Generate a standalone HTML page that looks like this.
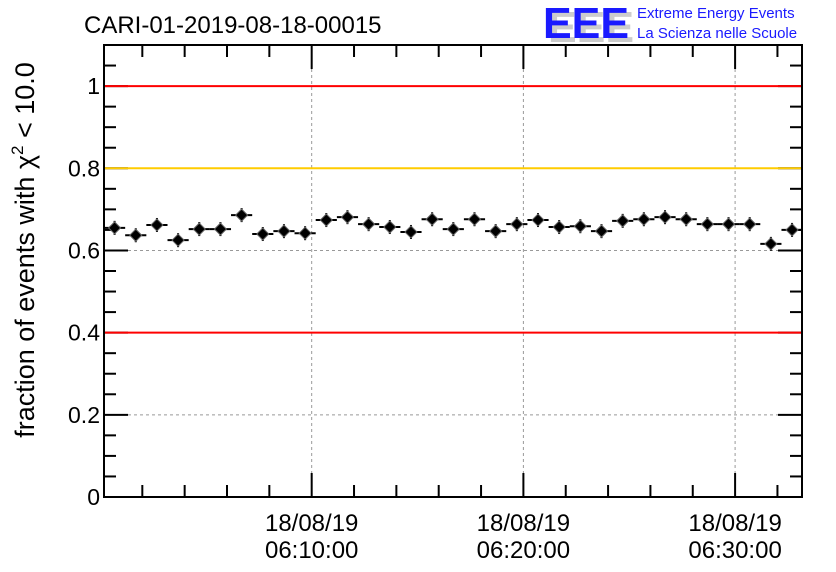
<!DOCTYPE html>
<html><head><meta charset="utf-8"><style>
body{margin:0;background:#fff;}
svg{display:block;font-family:"Liberation Sans",sans-serif;}
</style></head><body>
<svg id="c" width="836" height="572" viewBox="0 0 836 572">
<text x="84" y="33" font-size="24">CARI-01-2019-08-18-00015</text>
<g>
<text x="548" y="42" font-size="44" fill="#ccc" font-weight="bold" textLength="86" lengthAdjust="spacingAndGlyphs">EEE</text>
<text x="543" y="38" font-size="44" fill="#1a1aff" font-weight="bold" textLength="86" lengthAdjust="spacingAndGlyphs">EEE</text>
<text x="637" y="18" font-size="15" fill="#1a1aff">Extreme Energy Events</text>
<text x="637" y="38" font-size="15" fill="#1a1aff">La Scienza nelle Scuole</text>
</g>
<text transform="translate(34,250) rotate(-90)" font-size="27" text-anchor="middle">fraction of events with &#967;<tspan font-size="17" dy="-11">2</tspan><tspan dy="11"> &lt; 10.0</tspan></text>
<g id="plot"></g>
</svg>
<script>
const values=[0.655,0.637,0.662,0.625,0.652,0.652,0.686,0.640,0.647,0.642,0.674,0.681,0.664,0.657,0.645,0.676,0.652,0.676,0.647,0.664,0.674,0.657,0.659,0.647,0.672,0.676,0.681,0.676,0.664,0.664,0.664,0.616,0.650];
const yTicks=[0,0.2,0.4,0.6,0.8,1];
const yTickLabels=["0","0.2","0.4","0.6","0.8","1"];
const xMajorMinutes=[10,20,30];
const xMajorLabels=[["18/08/19","06:10:00"],["18/08/19","06:20:00"],["18/08/19","06:30:00"]];
const refLines=[{v:1,c:"#ff0000"},{v:0.8,c:"#ffcc00"},{v:0.4,c:"#ff0000"}];
const tStart=0.19, tEnd=33.16, binStart=0.19, binW=1;
const L=104,R=802,T=45,B=497,yMax=1.1;
const xs=t=>L+(t-tStart)/(tEnd-tStart)*(R-L);
const ys=v=>B-v/yMax*(B-T);
const NS="http://www.w3.org/2000/svg";
const g=document.getElementById('plot');
function mk(tag,a,name){const e=document.createElementNS(NS,tag);for(const k in a)e.setAttribute(k,a[k]);


g.appendChild(e);return e;}
yTicks.forEach(v=>{if(v>0&&v<1)mk('line',{x1:L,x2:R,y1:ys(v),y2:ys(v),stroke:'#999','stroke-dasharray':'3,3'},'y-gridline');});
xMajorMinutes.forEach(m=>mk('line',{x1:xs(m),x2:xs(m),y1:T,y2:B,stroke:'#999','stroke-dasharray':'3,3'},'x-gridline'));
for(let i=0;i*0.05<=yMax+1e-9;i++){const v=i*0.05;const maj=i%4==0;
mk('line',{x1:L,x2:L+(maj?24:12),y1:ys(v),y2:ys(v),stroke:'#000','stroke-width':2},'y-tick');
mk('line',{x1:R,x2:R-(maj?24:12),y1:ys(v),y2:ys(v),stroke:'#000','stroke-width':2},'y-tick-right');}
refLines.forEach(r=>mk('line',{x1:L+1,x2:R-1,y1:ys(r.v),y2:ys(r.v),stroke:r.c,'stroke-width':2},'reference-line'));
yTicks.forEach((v,i)=>{const t=mk('text',{x:L-4,y:ys(v)+8,'font-size':23,'text-anchor':'end'},'y-tick-label');t.textContent=yTickLabels[i];});
for(let m=0;m<=tEnd;m+=2){if(m<tStart)continue;const maj=m%10==0;
mk('line',{x1:xs(m),x2:xs(m),y1:B,y2:B-(maj?24:12),stroke:'#000','stroke-width':2},'x-tick');
mk('line',{x1:xs(m),x2:xs(m),y1:T,y2:T+(maj?24:12),stroke:'#000','stroke-width':2},'x-tick-top');}
xMajorMinutes.forEach((m,i)=>{const t=mk('text',{x:xs(m),y:531,'font-size':24,'text-anchor':'middle'},'x-tick-label');t.textContent=xMajorLabels[i][0];
const t2=mk('text',{x:xs(m),y:558,'font-size':24,'text-anchor':'middle'},'x-tick-label');t2.textContent=xMajorLabels[i][1];});
values.forEach((v,i)=>{const c=binStart+(i+0.5)*binW;const x=xs(c),y=ys(v);
mk('line',{x1:xs(binStart+i*binW),x2:xs(binStart+(i+1)*binW),y1:y,y2:y,stroke:'#000','stroke-width':2},'point-xerror');
mk('line',{x1:x,x2:x,y1:y-7,y2:y+7,stroke:'#000','stroke-width':2},'point-yerror');
mk('path',{d:`M${x} ${y-6}L${x+6} ${y}L${x} ${y+6}L${x-6} ${y}Z`,fill:'#000',stroke:'#666','stroke-width':1},'data-point');});
mk('rect',{x:L,y:T,width:R-L,height:B-T,fill:'none',stroke:'#000','stroke-width':2},'plot-frame');
</script>
</body></html>
